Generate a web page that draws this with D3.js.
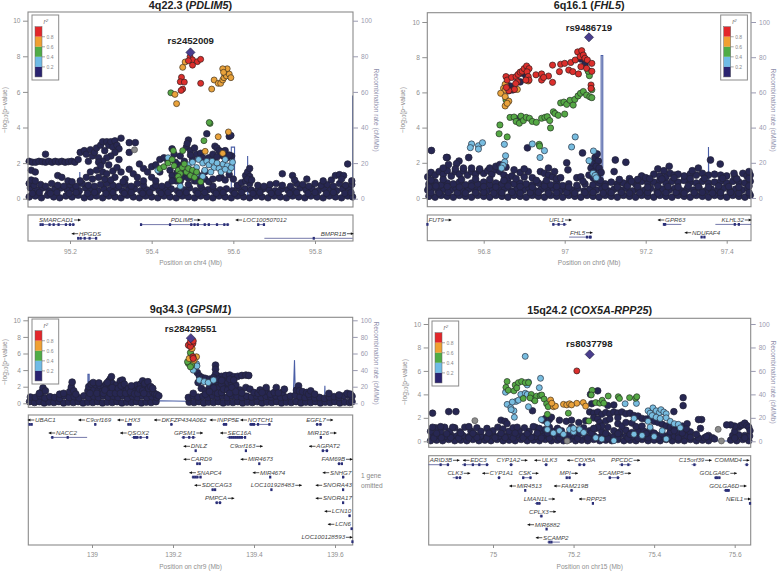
<!DOCTYPE html>
<html><head><meta charset="utf-8">
<script src="https://cdn.jsdelivr.net/npm/d3@7"></script>
<style>
html,body{margin:0;padding:0;background:#fff}
svg{display:block}
text{font-family:"Liberation Sans",Arial,sans-serif}
</style></head><body><svg id="c" width="778" height="571"></svg>
<script>
const rLevels=[0.8,0.6,0.4,0.2];
const yTicks=[0,2,4,6,8,10];
const rateTicks=[0,20,40,60,80,100];

/* ---------- 4q22.3 ---------- */
const p1Base=[[95.1,.1],[95.115,.15],[95.13,.05],[95.145,.2],[95.16,.1],[95.175,.05],[95.19,.15],[95.205,.1],[95.22,.2],[95.235,.05],[95.25,.1],[95.265,.15],[95.28,.05],[95.295,.15],[95.31,.1],[95.325,.05],[95.34,.2],[95.355,.1],[95.37,.05],[95.385,.15],[95.4,.1],[95.415,.05],[95.43,.15],[95.445,.1],[95.46,.05],[95.475,.15],[95.49,.1],[95.505,.05],[95.52,.15],[95.535,.1],[95.55,.05],[95.565,.15],[95.58,.1],[95.595,.05],[95.61,.15],[95.625,.1],[95.64,.05],[95.655,.15],[95.67,.1],[95.685,.05],[95.7,.15],[95.715,.1],[95.73,.05],[95.745,.15],[95.76,.1],[95.775,.05],[95.79,.15],[95.805,.1],[95.82,.05],[95.835,.15],[95.85,.1],[95.865,.05],[95.88,.15],[95.892,.1],
[95.103,.6],[95.118,.5],[95.133,.6],[95.148,.45],[95.163,.55],[95.178,.6],[95.193,.5],[95.208,.55],[95.223,.45],[95.238,.6],[95.253,.5],[95.268,.45],[95.283,.55],[95.298,.5],[95.313,.6],[95.328,.45],[95.343,.5],[95.358,.55],[95.373,.45],[95.388,.5],[95.403,.6],[95.418,.45],[95.433,.5],[95.448,.55],[95.463,.45],[95.478,.5],[95.493,.6],[95.508,.45],[95.523,.55],[95.538,.5],[95.553,.45],[95.568,.5],[95.583,.55],[95.598,.45],[95.613,.6],[95.628,.55],[95.643,.5],[95.658,.45],[95.673,.55],[95.688,.5],[95.703,.45],[95.718,.55],[95.733,.5],[95.748,.45],[95.763,.6],[95.778,.5],[95.793,.55],[95.808,.45],[95.823,.55],[95.838,.5],[95.853,.45],[95.868,.55],[95.883,.6],
[95.1,.85],[95.112,.75],[95.128,.8],[95.14,.7],[95.155,.85],[95.17,.75],[95.185,.7],[95.2,.8],[95.215,.7],[95.23,.85],[95.245,.75],[95.26,.7],[95.275,.8],[95.29,.85],[95.305,.75],[95.32,.7],[95.335,.8],[95.35,.7],[95.365,.85],[95.38,.75],[95.41,.75],[95.425,.7],[95.44,.8],[95.49,.8],[95.52,.75],[95.55,.7],[95.61,.75],[95.64,.85],[95.66,.75],[95.675,.7],[95.69,.8],[95.705,.85],[95.72,.75],[95.74,.7],[95.755,.85],[95.77,.8],[95.785,.7],[95.8,.85],[95.815,.75],[95.83,.8],[95.845,.7],[95.86,.85],[95.875,.75],[95.89,.8],
[95.108,.3],[95.125,.35],[95.152,.3],[95.168,.35],[95.198,.3],[95.215,.35],[95.243,.3],[95.26,.35],[95.288,.3],[95.305,.35],[95.333,.3],[95.35,.35],[95.378,.3],[95.395,.35],[95.423,.3],[95.44,.35],[95.468,.3],[95.485,.35],[95.513,.3],[95.53,.35],[95.558,.3],[95.575,.35],[95.603,.3],[95.62,.35],[95.648,.3],[95.665,.35],[95.693,.3],[95.71,.35],[95.738,.3],[95.755,.35],[95.783,.3],[95.8,.35],[95.828,.3],[95.845,.35],[95.873,.3],[95.888,.35]];
const p1Dark=[[95.1,2.1],[95.108,2.05],[95.116,2.05],[95.124,2.1],[95.132,2.08],[95.14,2.05],[95.148,2.1],[95.156,2.05],[95.164,2.1],[95.172,2.06],[95.18,2.1],[95.188,2.05],[95.196,2.08],[95.204,2.1],[95.212,2.05],[95.22,2.2],[95.14,2.5],
[95.225,2.6],[95.235,2.7],[95.24,2.5],[95.25,2.75],[95.255,2.4],[95.26,2.6],[95.265,2.85],[95.27,2.3],[95.275,3],[95.28,3.2],[95.285,2.7],[95.29,3.2],[95.295,3],[95.3,3.2],[95.305,2.9],[95.31,3.25],[95.315,3],[95.32,2.8],[95.325,3.4],[95.31,2.6],[95.3,2.4],[95.29,2.3],[95.28,2.1],[95.345,3.15],[95.36,3.15],[95.345,2.6],[95.32,2.2],[95.27,2.05],[95.245,2.1],
[95.105,1.6],[95.115,1.5],[95.105,1.05],[95.115,1],[95.17,1.3],[95.18,1.2],[95.195,1],[95.205,.95],[95.225,1],[95.24,1.2],[95.25,1.5],[95.255,1.1],[95.265,1.6],[95.27,1.2],[95.275,1.85],[95.28,1.5],[95.285,1.1],[95.295,1.9],[95.305,1.55],[95.31,1.2],[95.315,1.75],[95.325,1.5],[95.335,1.1],[95.345,1.65],[95.355,1.4],[95.365,1.2],[95.37,1.95],[95.38,1.7],[95.39,1.5],[95.4,1.8],[95.41,1.9],[95.42,2.2],[95.43,2.3],[95.44,2.1],[95.45,2.8],[95.4,1.2],[95.41,1],[95.42,1.5],[95.38,1],[95.29,1.4],[95.3,1.05],[95.33,.95],
[95.445,1.6],[95.45,1.3],[95.455,2.5],[95.46,1],[95.465,1.9],[95.47,2.4],[95.475,1.2],[95.48,2.1],[95.485,2.9],[95.49,3.3],[95.487,3.1],[95.495,2.7],[95.5,2.2],[95.5,1.5],[95.505,1],[95.51,2.5],[95.515,1.3],[95.52,2.55],[95.53,1.1],[95.535,3.65],[95.54,.95],[95.55,2.2],[95.555,2.95],[95.56,2.85],[95.565,2.7],[95.57,1.2],[95.575,2.4],[95.58,2.45],[95.585,2.3],[95.59,3.5],[95.594,3.55],[95.596,2.4],[95.565,1.15],
[95.45,1],[95.458,2.05],[95.462,1.45],[95.47,1],[95.48,1.45],[95.49,1.15],[95.495,2.45],[95.505,2.85],[95.51,1],[95.525,2.3],[95.53,1.5],[95.54,2.3],[95.55,2.5],[95.56,2.35],[95.57,2.65],[95.58,2.7],[95.59,2.45],[95.59,1.35],[95.6,1.1],[95.58,1.05],[95.55,1.1],
[95.62,.9],[95.63,1],[95.63,1.3],[95.635,1.5],[95.64,1.7],[95.64,1.25],[95.635,1.1],[95.645,1.05],[95.72,1.4],[95.745,1.3],[95.75,1.05],[95.78,1.1],[95.82,1],[95.84,1.05],[95.85,1.3],[95.86,1.35],[95.87,1.3],[95.88,1.95],[95.865,1.1],[95.89,1]];
const p1Blue=[[95.415,1.6],[95.44,2.3],[95.47,.7],[95.49,1.9],[95.5,2.05],[95.51,1.75],[95.515,2.2],[95.525,2],[95.53,1.6],[95.535,2.1],[95.54,1.9],[95.548,2.1],[95.553,1.75],[95.56,2],[95.565,1.7],[95.57,1.5],[95.575,1.95],[95.58,2.2],[95.585,1.85],[95.59,1.6],[95.595,1.75],[95.598,2.05],[95.58,1.65],[95.545,1.5],[95.51,1.4],[95.525,1.25]];
const p1Green=[[95.447,5.95],[95.543,4.23],[95.541,4.28],[95.528,3.26],[95.453,2.7],[95.476,2.7],[95.42,1.7],[95.43,1.8],[95.44,2],[95.45,2.2],[95.455,1.85],[95.465,1.6],[95.47,1.4],[95.475,1.75],[95.48,1.95],[95.485,1.5],[95.49,1.7],[95.495,1.3],[95.5,1.6],[95.505,1.2],[95.51,1.5],[95.465,1.25],[95.468,1.05],[95.52,.95]];
const p1Orange=[[95.482,7.68],[95.476,7.38],[95.457,5.86],[95.461,5.34],[95.547,6.16],[95.553,6.67],[95.563,6.48],[95.569,6.48],[95.574,6.67],[95.577,6.8],[95.58,7],[95.583,6.9],[95.585,7.3],[95.59,7],[95.594,6.8],[95.574,7.3],[95.576,7.1],[95.563,3.48],[95.588,3.75],[95.531,2.66],[95.574,2.55]];
const p1Red=[[95.494,7.98],[95.5,7.8],[95.49,7.75],[95.512,7.7],[95.52,7.83],[95.5,7.5],[95.473,6.82],[95.47,6.57],[95.48,6.55],[95.476,6.16],[95.472,6.08],[95.52,6.48]];
const p1Grey=[[95.358,2.75]];
const p1Lead=[[95.495,8.22]];
const p1Rate=[[95.1,.5],[95.224,.5],[95.224,15],[95.225,.5],[95.595,.5],[95.595,29],[95.603,29],[95.603,.5],[95.635,.5],[95.635,24],[95.636,.5],[95.892,.5],[95.892,58]];

/* ---------- 6q16.1 ---------- */
const p2Base=[[96.665,.1],[96.68,.05],[96.695,.15],[96.71,.1],[96.725,.05],[96.74,.15],[96.755,.1],[96.77,.05],[96.785,.15],[96.8,.1],[96.815,.05],[96.83,.15],[96.845,.1],[96.86,.05],[96.875,.15],[96.89,.1],[96.905,.05],[96.92,.15],[96.935,.1],[96.95,.05],[96.965,.15],[96.98,.1],[96.995,.05],[97.01,.15],[97.025,.1],[97.04,.05],[97.055,.15],[97.07,.1],[97.085,.05],[97.1,.15],[97.115,.1],[97.13,.05],[97.145,.15],[97.16,.1],[97.175,.05],[97.19,.15],[97.205,.1],[97.22,.05],[97.235,.15],[97.25,.1],[97.265,.05],[97.28,.15],[97.295,.1],[97.31,.05],[97.325,.15],[97.34,.1],[97.355,.05],[97.37,.15],[97.385,.1],[97.4,.05],[97.415,.15],[97.43,.1],[97.445,.05],[97.458,.15],
[96.662,.45],[96.672,.55],[96.688,.4],[96.702,.5],[96.718,.45],[96.732,.55],[96.748,.4],[96.762,.5],[96.778,.45],[96.792,.55],[96.808,.4],[96.822,.5],[96.838,.45],[96.852,.55],[96.868,.4],[96.882,.5],[96.898,.45],[96.912,.55],[96.928,.4],[96.942,.5],[96.958,.45],[96.972,.55],[96.988,.4],[97.002,.5],[97.018,.45],[97.032,.55],[97.048,.4],[97.062,.5],[97.078,.45],[97.092,.55],[97.108,.4],[97.122,.5],[97.138,.45],[97.152,.55],[97.168,.4],[97.182,.5],[97.198,.45],[97.212,.55],[97.228,.4],[97.242,.5],[97.258,.45],[97.272,.55],[97.288,.4],[97.302,.5],[97.318,.45],[97.332,.55],[97.348,.4],[97.362,.5],[97.378,.45],[97.392,.55],[97.408,.4],[97.422,.5],[97.438,.45],[97.452,.55],
[96.665,.8],[96.68,.9],[96.695,.75],[96.71,.85],[96.725,.8],[96.74,.9],[96.755,.75],[96.77,.85],[96.785,.8],[96.8,.9],[96.815,.75],[96.83,.85],[96.845,.8],[96.86,.9],[96.875,.8],[96.89,.85],[96.905,.8],[96.92,.75],[96.935,.85],[96.95,.8],[96.965,.75],[96.98,.9],[96.995,.7],[97.01,.8],[97.03,.72],[97.05,.8],[97.07,.75],[97.085,.85],[97.1,.8],[97.115,.9],[97.13,.8],[97.145,.85],[97.16,.9],[97.175,.8],[97.19,.95],[97.205,.85],[97.22,.9],[97.235,1],[97.25,.85],[97.265,.95],[97.28,.9],[97.295,1],[97.31,.9],[97.325,.85],[97.34,.95],[97.355,.85],[97.37,.9],[97.385,.95],[97.4,.85],[97.415,.95],[97.43,.9],[97.445,.85],[97.458,.95],
[96.662,1.2],[96.67,1.45],[96.68,1.3],[96.69,1.5],[96.7,1.35],[96.71,1.55],[96.72,1.25],[96.73,1.5],[96.74,1.35],[96.75,1.55],[96.76,1.3],[96.77,1.5],[96.78,1.35],[96.79,1.55],[96.8,1.4],[96.81,1.55],[96.82,1.35],[96.83,1.6],[96.84,1.5],[96.85,1.3],[96.86,1.15],[96.87,1.25],[96.88,1.1],[96.89,1.45],[96.9,1.2],[96.91,1.5],[96.92,1.15],[96.93,1],[96.94,1.5],[96.95,1.4],[96.96,1.3],[96.97,1.2],[96.98,1.1],[96.99,1.15],[97.16,1.1],[97.19,1.25],[97.2,1.15],[97.22,1.35],[97.235,1.25],[97.25,1.2],[97.26,1.4],[97.27,1.3],[97.28,1.35],[97.295,1.25],[97.31,1.35],[97.325,1.3],[97.34,1.4],[97.355,1.3],[97.37,1.35],[97.385,1.3],[97.4,1.25],[97.42,1.2],[97.44,1.4],[97.45,1.25],[97.458,1.3],
[96.67,.3],[96.69,.28],[96.712,.32],[96.735,.3],[96.755,.28],[96.78,.3],[96.8,.32],[96.825,.28],[96.845,.3],[96.87,.32],[96.89,.28],[96.915,.3],[96.935,.32],[96.96,.28],[96.98,.3],[97.005,.32],[97.025,.28],[97.05,.3],[97.07,.32],[97.095,.28],[97.115,.3],[97.14,.32],[97.16,.28],[97.185,.3],[97.205,.32],[97.23,.28],[97.25,.3],[97.275,.32],[97.295,.28],[97.32,.3],[97.34,.32],[97.365,.28],[97.385,.3],[97.41,.32],[97.43,.28],[97.455,.3],
[96.665,.62],[96.682,.68],[96.71,.65],[96.74,.62],[96.77,.68],[96.8,.65],[96.83,.62],[96.86,.68],[96.89,.65],[96.92,.62],[96.95,.68],[96.98,.65],[97.01,.62],[97.1,.65],[97.13,.62],[97.155,.68],[97.18,.65],[97.205,.62],[97.23,.68],[97.255,.65],[97.28,.62],[97.305,.68],[97.33,.65],[97.355,.62],[97.38,.68],[97.405,.65],[97.43,.62],[97.455,.68],
[96.67,1.02],[96.7,1.05],[96.745,1.05],[96.78,1.08],[96.815,1.05],[96.85,1],[96.955,1],[97.135,1.05],[97.18,1.05],[97.21,1.1],[97.24,1.08],[97.27,1.15],[97.31,1.1],[97.345,1.12],[97.39,1.12],[97.425,1.08],[97.455,1.1]];
const p2Dark=[[96.671,2.7],[96.71,2.3],[96.708,2.3],[96.763,2.3],[96.739,2.1],[96.733,1.95],[96.713,1.9],[96.908,2.85],[97.044,2.56],[97.005,2],[97.008,1.6],[97.125,2.16],[97.151,2.03],[97.122,1.5],[97.36,2.16],[97.384,1.93],[97.258,1.8],[97.23,1.65],[97.33,1.7],[97.418,1.4],[97.315,1.55],[97.455,1.5],[97.245,1.55],[97.165,.95],
[96.7,1.7],[96.73,1.65],[96.75,1.7],[96.77,1.7],[96.79,1.65],[96.815,1.7],[96.83,1.8],[96.84,1.9],[96.855,1.75],[96.875,1.6],[96.9,1.65],[96.96,1.7],[96.975,1.5],[97.03,1.15],[97.04,1.2],[97.045,.95],
[97.06,1.3],[97.065,1.7],[97.068,2],[97.072,1.5],[97.075,2.3],[97.08,2.5],[97.083,2.1],[97.078,1.8],[97.085,1.7],[97.075,1.1],[97.082,1.3],[97.088,1],[97.09,1.45],[97.07,1.15],
[96.865,6.36],[96.872,6.15],[96.855,6.4],[96.862,6.1],[96.89,6.6],[96.895,7.1],[96.905,6.9],[97.04,7.9],[97.05,7.6],[97.06,7.2],[96.88,4.5],[96.885,4.45]];
const p2Blue=[[96.77,3.07],[96.767,2.86],[96.787,2.97],[96.787,2.78],[96.797,3.14],[96.851,3.05],[96.92,3.07],[96.939,2.3],[96.95,2.69],[97.026,3.47],[97.017,2.9],[97.071,2.67],[97.06,2.12],[96.854,2.4],[96.852,2.05],[96.848,1.85],[96.844,1.7],[97.07,1.4],[97.075,1.28],[97.078,1.15]];
const p2Green=[[96.84,4.15],[96.838,3.65],[96.858,3.47],[96.855,5.57],[96.865,4.58],[96.875,4.6],[96.88,4.35],[96.888,4.25],[96.892,4.65],[96.898,4.4],[96.905,4.58],[96.913,4.53],[96.92,4.35],[96.93,4.3],[96.943,4.53],[96.951,4.58],[96.957,4.62],[96.963,4.4],[96.965,3.98],[96.972,4.9],[96.976,4.8],[96.984,4.7],[97,4.77],[96.99,5.4],[96.998,5.45],[97.005,5.32],[97.013,5.55],[97.021,5.28],[97.025,5.6],[97.033,5.8],[97.039,5.95],[97.046,6.05],[97.054,5.85],[97.062,5.75],[97.067,6.15],[97.067,5.7],[97.061,6.95],[97.058,7.2],[96.937,3.05],[96.938,2.95]];
const p2Orange=[[96.853,6.46],[96.849,6.23],[96.853,6.13],[96.842,5.95],[96.853,5.76],[96.862,5.5],[96.853,5.23],[96.858,5.38],[96.883,6.17],[96.91,6.65]];
const p2Red=[[96.855,6.9],[96.858,6.7],[96.869,6.85],[96.88,6.9],[96.885,7.02],[96.89,7.15],[96.895,7.2],[96.9,7.35],[96.906,7.5],[96.912,7.35],[96.907,7.17],[96.91,6.9],[96.912,6.7],[96.904,6.7],[96.883,6.6],[96.879,6.5],[96.876,6.17],[96.862,6.1],[96.856,6.28],[96.929,7],[96.943,7.05],[96.943,6.7],[96.96,6.93],[96.948,6.85],[96.97,7.55],[96.97,6.57],[96.987,7.18],[96.99,7.6],[97,7.65],[97.01,7.27],[97.02,7.18],[97.034,7.05],[97.015,7.7],[97.026,7.84],[97.032,8.3],[97.042,8.37],[97.038,8.03],[97.046,8.12],[97.05,7.94],[97.056,7.84],[97.067,7.65],[97.04,7.46],[97.054,7.37],[97.067,7.2],[97.065,6.42],[97.065,6.23]];
const p2Lead=[[97.06,9.13]];
const p2Rate=[[96.661,.3],[97.09,.3],[97.09,81],[97.094,81],[97.094,.3],[97.355,.3],[97.355,29],[97.356,.3],[97.46,.3]];

/* ---------- 9q34.3 ---------- */
const p3Base=[[138.846,.2],[138.858,.1],[138.87,.2],[138.882,.05],[138.894,.15],[138.906,.1],[138.918,.2],[138.93,.05],[138.942,.15],[138.954,.1],[138.966,.2],[138.978,.05],[138.99,.15],[139.002,.1],[139.014,.2],[139.026,.05],[139.038,.15],[139.05,.1],[139.062,.2],[139.074,.05],[139.086,.15],[139.098,.1],[139.11,.2],[139.122,.05],[139.134,.15],[139.146,.1],[139.158,.2],[139.24,.15],[139.252,.1],[139.264,.2],[139.276,.05],[139.288,.15],[139.3,.1],[139.312,.2],[139.324,.05],[139.336,.15],[139.348,.1],[139.36,.2],[139.372,.05],[139.384,.15],[139.396,.1],[139.408,.2],[139.42,.05],[139.432,.15],[139.444,.1],[139.456,.2],[139.468,.05],[139.48,.15],[139.492,.1],[139.504,.2],[139.516,.05],[139.528,.15],[139.54,.1],[139.552,.2],[139.564,.05],[139.576,.15],[139.588,.1],[139.6,.2],[139.612,.05],[139.624,.15],[139.636,.1],[139.642,.2],
[138.848,.75],[138.86,.7],[138.872,.9],[138.884,.65],[138.896,.8],[138.908,.7],[138.92,.6],[138.932,.9],[138.944,.7],[138.956,.8],[138.968,.65],[138.98,.9],[138.992,.7],[139.004,.85],[139.016,.7],[139.028,.9],[139.04,.75],[139.052,.85],[139.064,.7],[139.076,.9],[139.088,.65],[139.1,.85],[139.112,.7],[139.124,.9],[139.136,.7],[139.148,.8],[139.16,.7],[139.238,.7],[139.25,.9],[139.262,.75],[139.274,.85],[139.286,.7],[139.298,.9],[139.31,.75],[139.322,.85],[139.334,.7],[139.346,.9],[139.358,.8],[139.37,.7],[139.382,.85],[139.394,.75],[139.406,.9],[139.418,.7],[139.43,.85],[139.442,.75],[139.454,.9],[139.466,.7],[139.478,.75],[139.49,.85],[139.502,.95],[139.514,.8],[139.526,.7],[139.538,.8],[139.55,.65],[139.562,.7],[139.574,.6],[139.586,.75],[139.598,.8],[139.61,.7],[139.622,.9],[139.634,.95],[139.642,.85]];
const p3Dark=[[138.875,1.3],[138.879,1.85],[138.885,1.5],[138.87,1.2],[138.92,1.1],[138.93,1.2],[138.945,1.4],[138.949,1.95],[138.951,2.55],[138.955,1.5],[138.96,1.1],
[138.99,1.5],[138.992,2],[138.998,2.3],[139.005,1.6],[139.01,2.2],[139.015,1.5],[139.02,2.1],[139.025,1.4],[139.03,2],[139.035,2.3],[139.04,1.6],[139.042,2.7],[139.045,2.9],[139.048,3.2],[139.05,2.4],[139.055,1.6],[139.06,2.2],[139.062,1.4],[139.07,2.7],[139.075,2.8],[139.08,1.7],[139.085,1.6],[139.09,1.2],[139.1,2],[139.105,1.5],[139.11,2.2],[139.115,1.7],[139.12,2.3],[139.125,2.7],[139.13,2.1],[139.135,1.5],[139.14,1.2],[139.15,1.4],[139.155,1.15],[139.16,1.05],[139.165,.9],
[138.995,1.2],[139.003,2.5],[139.012,1.2],[139.017,2.45],[139.028,1.2],[139.032,1.6],[139.038,2.5],[139.045,1.2],[139.05,1.9],[139.058,1.2],[139.065,1.8],[139.07,1.2],[139.072,2.1],[139.08,2.3],[139.083,1.2],[139.09,1.8],[139.095,1.35],[139.097,2.1],[139.105,1.15],[139.113,1.2],[139.118,1.7],[139.125,1.5],[139.128,1.2],[139.13,2.4],[139.138,2.6],[139.14,1.8],[139.145,2],[139.15,1.8],
[139.26,3.7],[139.265,3.3],[139.272,3.1],[139.28,3],[139.29,2.9],[139.3,2.95],[139.305,4.6],[139.305,4.1],[139.31,3.3],[139.32,3.25],[139.33,3.35],[139.34,3.4],[139.35,3.2],[139.36,3.25],[139.37,3.35],[139.38,3.4],[139.387,3.35],[139.25,1.2],[139.262,2.5],[139.27,1.8],[139.28,1.5],[139.29,1.9],[139.3,2.3],[139.31,2.6],[139.315,1.9],[139.325,2.7],[139.33,1.8],[139.335,2.5],[139.345,2.4],[139.355,2.2],[139.3,1.4],[139.28,1.1],[139.31,1.2],[139.32,1.3],[139.365,1.6],[139.38,1.9],[139.39,1.7],[139.4,1.3],[139.41,1.2],[139.43,1.5],[139.44,1.1],[139.43,1.9],[139.47,1.3],[139.475,1.7],[139.45,1.3],
[139.295,2.55],[139.305,3.5],[139.3,3.1],[139.305,2.9],[139.312,2.9],[139.32,2.3],[139.325,1.7],[139.335,1.6],[139.34,2.9],[139.35,2.8],[139.345,1.9],[139.32,2.75],[139.34,1.2],[139.355,1.4],[139.37,1.25],[139.3,1.85],[139.29,1.4],[139.415,1.6],[139.42,1.3],[139.455,1.9],[139.46,1.25],
[139.505,1.6],[139.51,2.1],[139.512,1.5],[139.52,1.4],[139.53,1.3],[139.535,1.1],[139.54,1.5],[139.55,1.1],[139.585,1.2],[139.61,1],[139.63,1.2],[139.638,1.1]];
const p3Blue=[[139.258,4.75],[139.25,4],[139.265,2.8],[139.277,2.6],[139.287,2.5],[139.3,2.8],[139.259,4.5]];
const p3Green=[[139.238,4.8],[139.245,5.8],[139.242,5.2],[139.246,4.6],[139.236,5],[139.243,6.1],[139.243,4.4]];
const p3Orange=[[139.247,6.6],[139.258,5.6],[139.252,5.2],[139.24,5.4]];
const p3Red=[[139.238,7],[139.249,7.2],[139.243,6.85],[139.249,5.6],[139.25,5.4],[139.243,7.4],[139.25,7.5]];
const p3Lead=[[139.244,7.85]];
const p3Rate=[[138.843,1],[138.94,1],[138.945,10],[138.95,5],[138.955,.5],[138.99,.5],[138.99,35],[138.993,35],[138.993,1],[139.165,3],[139.235,2.5],[139.24,1],[139.485,1],[139.49,8],[139.497,8],[139.5,52],[139.502,10],[139.505,1],[139.574,1],[139.575,21],[139.576,1],[139.644,1]];

/* ---------- 15q24.2 ---------- */
const p4Base=[[74.845,.05],[74.86,.1],[74.875,.05],[74.89,.15],[74.905,.05],[74.92,.1],[74.935,.05],[74.95,.15],[74.965,.05],[74.98,.1],[74.995,.05],[75.01,.15],[75.025,.05],[75.04,.1],[75.055,.05],[75.07,.15],[75.085,.05],[75.1,.1],[75.115,.05],[75.13,.15],[75.145,.05],[75.16,.1],[75.175,.05],[75.19,.15],[75.205,.05],[75.22,.1],[75.235,.05],[75.25,.15],[75.265,.05],[75.28,.1],[75.295,.05],[75.31,.15],[75.325,.05],[75.34,.1],[75.355,.05],[75.37,.15],[75.385,.05],[75.4,.1],[75.415,.05],[75.43,.15],[75.445,.05],[75.46,.1],[75.475,.05],[75.49,.15],[75.505,.05],[75.52,.1],[75.535,.05],[75.59,.1],[75.605,.05],[75.62,.15],[75.635,.05],
[74.85,.45],[74.865,.5],[74.88,.4],[74.895,.55],[74.91,.45],[74.925,.5],[74.94,.4],[74.955,.55],[74.97,.45],[74.985,.4],[75,.55],[75.015,.45],[75.03,.5],[75.045,.4],[75.06,.55],[75.075,.45],[75.09,.5],[75.105,.4],[75.125,.5],[75.14,.45],[75.155,.55],[75.17,.4],[75.2,.5],[75.23,.4],[75.25,.5],[75.27,.45],[75.285,.5],[75.3,.4],[75.315,.55],[75.33,.45],[75.345,.4],[75.36,.5],[75.375,.4],[75.39,.5],[75.405,.55],[75.42,.4],[75.435,.5],[75.45,.45],[75.465,.4],[75.48,.5],[75.51,.3],[75.525,.3],[75.595,.5],[75.61,.55],[75.625,.5],[75.637,.45],
[74.845,.85],[74.858,1.15],[74.87,.8],[74.88,1.2],[74.892,.85],[74.905,1.15],[74.918,.8],[74.93,1.2],[74.945,.9],[74.96,1.15],[74.97,.85],[74.985,1.1],[75,.9],[75.012,1.2],[75.025,1.05],[75.04,.85],[75.05,1.15],[75.065,.9],[75.078,1.15],[75.09,.85],[75.105,1.2],[75.118,.9],[74.85,1.2],[74.87,1.25],[74.9,1.2],[74.94,1.25],[75.02,1.8],[75.03,1.7],[75.035,1.5],[75.06,1.2],[75.1,1.25],[75.115,1.1],
[75.13,1],[75.14,1.2],[75.15,.85],[75.16,1.1],[75.17,.9],[75.195,1.2],[75.21,.95],[75.225,1.15],[75.24,.9],[75.255,1.1],[75.27,.85],[75.285,1.2],[75.3,.9],[75.315,.8],[75.33,.95],[75.345,.75],[75.36,.9],[75.375,.85],[75.39,.95],[75.4,.7],[75.44,.8],[75.46,.7],[75.475,.95],[75.49,.8],[75.505,.6],[75.515,1.1],[75.518,1.85],[75.6,.85],[75.61,1.2],[75.615,1.35],[75.62,1.4],[75.625,1.55],[75.63,1.35],[75.635,1.2],[75.6,1.3],[75.59,1.4],[75.638,.9],
[74.853,.28],[74.872,.3],[74.895,.32],[74.915,.28],[74.94,.3],[74.96,.32],[74.985,.28],[75.005,.3],[75.03,.32],[75.05,.28],[75.075,.3],[75.095,.32],[75.12,.28],[75.14,.25],[75.165,.28],[75.185,.3],[75.21,.25],[75.235,.28],[75.26,.3],[75.285,.25],[75.31,.3],[75.335,.28],[75.36,.25],[75.385,.3],[75.41,.28],[75.435,.3],[75.46,.28],[75.49,.35],[75.6,.28],[75.625,.3],
[74.86,.68],[74.885,.65],[74.92,.7],[74.95,.68],[74.99,.7],[75.02,.68],[75.055,.7],[75.085,.65],[75.11,.7],[75.135,.7],[75.165,.68],[75.19,.65],[75.215,.68],[75.245,.7],[75.28,.68],[75.31,.65],[75.34,.6],[75.38,.65],[75.42,.62],[75.47,.7]];
const p4Dark=[[74.85,2.4],[74.89,2.53],[74.908,2.53],[75.242,4],[75.26,4.3],[75.098,2.6],[75.472,3.72],[75.472,3.04],[75.449,2.53],[75.125,1.8],[75.13,1.95],[75.135,1.6],[75.14,1.85],[75.145,2.05],[75.165,1.8],[75.182,1.7],[75.195,1.8],[75.213,1.6],[75.23,1.75],[75.3,3.1],[75.285,3.05],[75.245,3.2],
[75.24,2.5],[75.25,2.4],[75.26,2.5],[75.27,2.3],[75.28,2.45],[75.29,2.35],[75.3,2.5],[75.31,2.4],[75.32,2.5],[75.33,2.35],[75.34,2.4],[75.35,2.2],[75.36,2.15],[75.37,1.95],[75.38,1.9],[75.39,2],[75.4,1.7],[75.41,1.6],[75.42,1.45],[75.43,1.3],[75.44,1.2],[75.45,1.15],[75.47,1.3],[75.482,1.5],[75.51,1.85],[75.535,.5],[75.58,1.4],[75.25,2],[75.26,1.9],[75.265,1.6],[75.27,1.3],[75.28,1.75],[75.29,1.9],[75.31,1.5],[75.32,1.3],[75.33,1.6],[75.345,1.55],[75.355,1.25],[75.37,1.3],[75.31,2],[75.26,1.2],[75.25,1.1],[75.48,1.05],[75.45,.9],[75.53,.4],[75.545,.3],[75.55,.2]];
const p4Blue=[[75.08,7.24],[75.118,5.37],[75.115,4.57],[75.031,4.18],[75.035,3.15],[75.044,2.87],[75.052,2.6],[75.053,2.05],[75.057,3.4],[75.063,3.5],[75.069,4],[75.08,4.1],[75.085,4],[75.088,2.95],[75.085,4.8],[75.088,5.05],[75.048,3.35],[75.045,2.7],[75.356,3.23],[75.328,3.2],[75.12,1.85],[75.135,1],[75.15,.7],[75.165,.9],[75.175,.6],[75.19,1],[75.2,.8],[75.215,1],[75.225,.75],[75.255,.3],[75.27,.2],[75.3,.05],[75.35,.6],[75.37,.5],[75.4,.4],[75.43,.2],[75.385,2.6],[75.39,2.4],[75.397,2.85],[75.405,2.6],[75.413,2.45],[75.417,2.7],[75.424,2.5],[75.43,2.35],[75.395,2.2],[75.405,2.05],[75.415,1.95],[75.43,2],[75.44,1.7],[75.45,1.5],[75.46,1.45],[75.465,1.15],[75.42,.9],[75.385,1.7],[75.39,1.2],[75.35,1.95],[75.2,1.1],[75.135,1.5]];
const p4Green=[[75.035,5.1],[75.032,4.6],[75.038,4.35],[75.052,4.3],[75.055,4.8],[75.063,5],[75.071,5.1],[75.08,5],[75.088,5],[75.059,4.55],[75.075,3.65],[75.095,4],[75.1,3.6],[75.108,3.85],[75.117,3.9],[75.121,3.95],[75.092,3.7],[75.104,3.45],[75.127,3.6],[75.133,3.2],[75.137,2.95],[75.135,2.3],[75.187,2.4],[75.238,1.73],[75.246,4.35],[75.244,3.95],[75.255,3.3],[75.265,3.25],[75.271,3.5],[75.275,3.25],[75.286,3.86],[75.311,3.8],[75.314,3.65],[75.339,3.72],[75.354,3.67],[75.357,3.8]];
const p4Orange=[[75.143,3.52],[75.15,2.95],[75.155,3],[75.146,3.25],[75.175,3.15],[75.183,3.1],[75.19,3.2],[75.208,3.24],[75.224,3.3],[75.23,3],[75.195,3.1]];
const p4Red=[[75.208,6]];
const p4Grey=[[74.955,1.76],[75.184,.03],[75.559,1.02],[75.567,.03]];
const p4Lead=[[75.24,7.41]];
const p4Rate=[[74.84,.2],[75.64,.2]];

/* ---------- genes: name, start, end, row, strand, label centre, exons ---------- */
const p1Genes=[["SMARCAD1",95.128,95.212,0,1,95.166,[95.128,95.133,95.15,95.16,95.172,95.19,95.2,95.208]],
["HPGDS",95.219,95.265,1,-1,95.249,[95.22,95.226,95.236,95.248,95.264]],
["PDLIM5",95.372,95.59,0,1,95.474,[95.374,95.445,95.497,95.505,95.513,95.53,95.54,95.56,95.578,95.586]],
["LOC100507012",95.66,95.676,0,-1,95.677,[95.661,95.675]],
["BMPR1B",95.676,95.892,1,1,95.845,[95.797]]];
const p2Genes=[["FUT9",96.661,96.662,0,1,96.683,[96.661]],
["UFL1",96.969,97.005,0,1,96.98,[96.972,96.985,96.999]],
["FHL5",97.011,97.066,1,1,97.032,[97.055,97.062,97.064]],
["GPR63",97.243,97.288,0,-1,97.273,[97.245,97.248]],
["NDUFAF4",97.336,97.347,1,-1,97.349,[97.338,97.345]],
["KLHL32",97.372,97.46,0,1,97.415,[97.42,97.43]]];
const p3Genes=[["UBAC1",138.844,138.853,0,-1,138.885,[138.846,138.851]],
["C9orf169",139.006,139.011,0,-1,139.016,[139.008]],
["LHX3",139.087,139.098,0,-1,139.1,[139.09,139.095]],
["DKFZP434A062",139.193,139.2,0,-1,139.227,[139.196]],
["INPP5E",139.322,139.334,0,-1,139.336,[139.326,139.331]],
["NOTCH1",139.388,139.441,0,-1,139.416,[139.392,139.396,139.4,139.41,139.438]],
["EGFL7",139.552,139.568,0,1,139.553,[139.556,139.564]],
["NACC2",138.898,138.988,1,-1,138.937,[138.902,138.94]],
["QSOX2",139.098,139.139,1,-1,139.114,[139.104,139.108,139.112,139.12,139.136]],
["GPSM1",139.221,139.256,1,1,139.229,[139.226,139.24,139.25]],
["SEC16A",139.333,139.38,1,-1,139.364,[139.34,139.345,139.35,139.355,139.36,139.365,139.37,139.378]],
["MIR126",139.565,139.566,1,1,139.559,[139.565]],
["DNLZ",139.254,139.258,2,-1,139.264,[139.256]],
["C9orf163",139.378,139.382,2,1,139.372,[139.38]],
["AGPAT2",139.567,139.584,2,-1,139.583,[139.57,139.58]],
["CARD9",139.258,139.269,3,-1,139.27,[139.26,139.266]],
["MIR4673",139.413,139.414,3,-1,139.416,[139.413]],
["FAM69B",139.606,139.619,3,1,139.596,[139.61,139.617]],
["SNAPC4",139.246,139.271,4,-1,139.289,[139.25,139.255,139.26,139.268]],
["MIR4674",139.44,139.441,4,-1,139.446,[139.44]],
["SNHG7",139.618,139.624,4,-1,139.614,[139.62]],
["SDCCAG3",139.295,139.306,5,-1,139.308,[139.298,139.304]],
["LOC101928483",139.441,139.445,5,1,139.446,[139.443]],
["SNORA43",139.62,139.621,5,-1,139.606,[139.62]],
["PMPCA",139.304,139.32,6,1,139.306,[139.308,139.316]],
["SNORA17",139.62,139.621,6,-1,139.606,[139.62]],
["LCN10",139.633,139.639,7,-1,139.616,[139.636]],
["LCN6",139.639,139.644,8,-1,139.62,[139.641]],
["LOC100128593",139.642,139.644,9,1,139.571,[139.643]]];
const p4Genes=[["ARID3B",74.84,74.892,0,1,74.871,[74.87,74.888]],
["EDC3",74.923,74.99,0,-1,74.964,[74.93,74.95,74.966,74.985]],
["CYP1A2",75.04,75.05,0,1,75.038,[75.045]],
["ULK3",75.127,75.136,0,-1,75.14,[75.132]],
["COX5A",75.211,75.23,0,-1,75.228,[75.215,75.226]],
["PPCDC",75.313,75.343,0,1,75.32,[75.32,75.336]],
["C15orf39",75.493,75.505,0,1,75.493,[75.5]],
["COMMD4",75.625,75.635,0,1,75.584,[75.63]],
["CLK3",74.9,74.922,1,1,74.906,[74.91,74.918]],
["CYP1A1",75.011,75.019,1,-1,75.021,[75.015]],
["CSK",75.073,75.096,1,1,75.079,[75.075,75.093]],
["MPI",75.181,75.193,1,1,75.179,[75.183,75.19]],
["SCAMP5",75.287,75.315,1,1,75.293,[75.29,75.31]],
["GOLGA6C",75.549,75.565,1,1,75.55,[75.553,75.557,75.562]],
["MIR4513",75.08,75.081,2,-1,75.09,[75.08]],
["FAM219B",75.191,75.199,2,-1,75.203,[75.195]],
["GOLGA6D",75.573,75.588,2,1,75.574,[75.578,75.582,75.585]],
["LMAN1L",75.104,75.119,3,1,75.106,[75.11,75.115]],
["RPP25",75.246,75.25,3,-1,75.256,[75.248]],
["NEIL1",75.637,75.64,3,1,75.6,[75.638]],
["CPLX3",75.116,75.124,4,1,75.114,[75.12]],
["MIR6882",75.133,75.134,5,-1,75.135,[75.133]],
["SCAMP2",75.135,75.166,6,-1,75.156,[75.14,75.145]]];

const colors={dark:"#272752",blue:"#78bde0",green:"#55a845",orange:"#e9a23b",red:"#dc2f2c",grey:"#8c8c8c",lead:"#4a3d8e"};
const legendColors=["#e3262a","#f0a032","#4fac46","#6fbbe6","#2a2370"];

const panels=[
 {title:"4q22.3 (",gene:"PDLIM5",rs:"rs2452009",rsAt:[190.7,43.5],chr:"chr4",box:[28,12,353,207],y0:198.7,y10:20.7,titleY:9,
  xd:[95.2,95.8],xr:[70,315],xt:[95.2,95.4,95.6,95.8],fmt:d3.format(".1f"),
  gbox:[215,241],rowY:[220,233.7],lineOff:4.6,legend:[32,15],yLab:[6.5,110],rLab:[374,110],xTickY:254,xLabY:265,
  sets:{base:p1Base,dark:p1Dark,blue:p1Blue,green:p1Green,orange:p1Orange,red:p1Red,grey:p1Grey,lead:p1Lead},rate:p1Rate,genes:p1Genes,r:3.3},
 {title:"6q16.1 (",gene:"FHL5",rs:"rs9486719",rsAt:[589,31],chr:"chr6",box:[427.3,12.7,751,206.7],y0:198,y10:22,titleY:9,
  xd:[96.8,97.4],xr:[483.7,726.7],xt:[96.8,97,97.2,97.4],fmt:d=>d===97?"97":d3.format(".1f")(d),
  gbox:[215,240.7],rowY:[220,232.7],lineOff:4.4,legend:[720.7,15],yLab:[405,110],rLab:[771,110],xTickY:254,xLabY:265,
  sets:{base:p2Base,dark:p2Dark,blue:p2Blue,green:p2Green,orange:p2Orange,red:p2Red,grey:[],lead:p2Lead},rate:p2Rate,genes:p2Genes,r:3.4},
 {title:"9q34.3 (",gene:"GPSM1",rs:"rs28429551",rsAt:[190.7,332],chr:"chr9",box:[28.3,317.3,352.7,407.3],y0:403.3,y10:320.3,titleY:313,
  xd:[139,139.6],xr:[92,335],xt:[139,139.2,139.4,139.6],fmt:d=>d===139?"139":d3.format(".1f")(d),
  gbox:[415,545],rowY:[420,433,446.3,459.3,472.7,485.3,498.3,511.3,524.3,537.3],lineOff:4.4,legend:[32,319],yLab:[6.5,362],rLab:[374,363],xTickY:557,xLabY:569,
  sets:{base:p3Base,dark:p3Dark,blue:p3Blue,green:p3Green,orange:p3Orange,red:p3Red,grey:[],lead:p3Lead},rate:p3Rate,genes:p3Genes,r:3.4,omitted:true},
 {title:"15q24.2 (",gene:"COX5A-RPP25",rs:"rs8037798",rsAt:[589.3,346.5],chr:"chr15",box:[428.7,318.3,750.7,447.3],y0:441.3,y10:324,titleY:314,
  xd:[75,75.6],xr:[493,734.7],xt:[75,75.2,75.4,75.6],fmt:d=>d===75?"75":d3.format(".1f")(d),
  gbox:[455.7,545],rowY:[460.3,473.3,486,499,511.7,524.7,537.7],lineOff:4.4,legend:[432,321],yLab:[406.5,382],rLab:[771,382],xTickY:557,xLabY:569,
  sets:{base:p4Base,dark:p4Dark,blue:p4Blue,green:p4Green,orange:p4Orange,red:p4Red,grey:p4Grey,lead:p4Lead},rate:p4Rate,genes:p4Genes,r:3.3}
];

const svg=d3.select("#c");
const tickCol="#8f8f8f", borderCol="#8a8a8a", rateCol="#4a5ea6";

panels.forEach(p=>{
  const g=svg.append("g");
  const [bx0,by0,bx1,by1]=p.box;
  const x=d3.scaleLinear().domain(p.xd).range(p.xr);
  const y=d3.scaleLinear().domain([0,10]).range([p.y0,p.y10]);
  const yr=d3.scaleLinear().domain([0,100]).range([p.y0,p.y10]);

  g.append("text").attr("x",(bx0+bx1)/2).attr("y",p.titleY).attr("text-anchor","middle")
   .attr("font-size",10.8).attr("font-weight","bold").attr("fill","#222")
   .call(t=>{t.append("tspan").text(p.title);t.append("tspan").attr("font-style","italic").text(p.gene);t.append("tspan").text(")");});

  // recombination line
  g.append("path").datum(p.rate).attr("fill","none").attr("stroke",rateCol).attr("stroke-width",1.1)
   .attr("d",d3.line().x(d=>x(d[0])).y(d=>yr(d[1])));

  // points
  const drawPts=(data,fill,stroke,r)=>{
    g.append("g").selectAll("circle").data(data).join("circle")
     .attr("cx",d=>x(d[0])).attr("cy",d=>y(d[1])).attr("r",r)
     .attr("fill",fill).attr("stroke",stroke).attr("stroke-width",.7);
  };
  const s=p.sets;
  drawPts(s.base,colors.dark,"#222238",p.r);
  drawPts(s.dark,colors.dark,"#222238",p.r);
  drawPts(s.blue,colors.blue,"#2a3444",p.r-.3);
  drawPts(s.green,colors.green,"#263426",p.r-.3);
  drawPts(s.orange,colors.orange,"#44341e",p.r-.3);
  drawPts(s.red,colors.red,"#341e1e",p.r-.3);
  drawPts(s.grey,colors.grey,"#555",p.r-.3);
  g.append("g").selectAll("path").data(s.lead).join("path")
   .attr("transform",d=>`translate(${x(d[0])},${y(d[1])})`)
   .attr("d",d3.symbol(d3.symbolDiamond2,52))
   .attr("fill",colors.lead).attr("stroke","#26264a").attr("stroke-width",.7);

  // plot box
  g.append("rect").attr("x",bx0).attr("y",by0).attr("width",bx1-bx0).attr("height",by1-by0)
   .attr("fill","none").attr("stroke",borderCol).attr("stroke-width",1.1);

  // rs label
  g.append("text").attr("x",p.rsAt[0]).attr("y",p.rsAt[1]).attr("text-anchor","middle")
   .attr("font-size",9.6).attr("font-weight","bold").attr("fill","#222").text(p.rs);

  // axes
  const styleAx=(sel,col)=>{sel.select(".domain").remove();
    sel.selectAll("line").attr("stroke",col);sel.selectAll("text").attr("fill",col).attr("font-size",6.6).attr("font-family",'"Liberation Sans",Arial,sans-serif');};
  g.append("g").attr("transform",`translate(${bx0},0)`)
   .call(d3.axisLeft(y).tickValues(yTicks).tickSize(5).tickPadding(2.5)).call(styleAx,tickCol);
  g.append("g").attr("transform",`translate(${bx1},0)`)
   .call(d3.axisRight(yr).tickValues(rateTicks).tickSize(5).tickPadding(3)).call(styleAx,"#9a9ab0");
  g.append("g").attr("transform",`translate(0,${p.gbox[1]})`)
   .call(d3.axisBottom(x).tickValues(p.xt).tickFormat(p.fmt).tickSize(3).tickPadding(p.xTickY-p.gbox[1]-8)).call(styleAx,tickCol);

  // axis titles
  const yl=g.append("text").attr("transform",`translate(${p.yLab[0]},${p.yLab[1]}) rotate(-90)`).attr("text-anchor","middle")
    .attr("font-size",6.6).attr("fill",tickCol);
  yl.append("tspan").text("−log");yl.append("tspan").attr("font-size",4.8).attr("dy",1.4).text("10");
  yl.append("tspan").attr("dy",-1.4).text("(p−value)");
  g.append("text").attr("transform",`translate(${p.rLab[0]},${p.rLab[1]}) rotate(90)`).attr("text-anchor","middle")
    .attr("font-size",6.6).attr("fill","#8f90ac").text("Recombination rate (cM/Mb)");
  g.append("text").attr("x",(bx0+bx1)/2).attr("y",p.xLabY).attr("text-anchor","middle")
    .attr("font-size",6.6).attr("fill",tickCol).text(`Position on ${p.chr} (Mb)`);

  // legend
  const [lx,ly]=p.legend;
  const lg=g.append("g");
  lg.append("rect").attr("x",lx).attr("y",ly).attr("width",26.7).attr("height",65).attr("fill","#fff").attr("stroke",borderCol).attr("stroke-width",1);
  legendColors.forEach((c,i)=>lg.append("rect").attr("x",lx+3).attr("y",ly+11.7+i*10.05).attr("width",7).attr("height",10.05).attr("fill",c));
  lg.append("rect").attr("x",lx+3).attr("y",ly+11.7).attr("width",7).attr("height",50.25).attr("fill","none").attr("stroke","#666").attr("stroke-width",.5);
  rLevels.forEach((v,i)=>{
    const yy=ly+21.75+i*10.05;
    lg.append("line").attr("x1",lx+10).attr("x2",lx+13).attr("y1",yy).attr("y2",yy).attr("stroke","#555").attr("stroke-width",.5);
    lg.append("text").attr("x",lx+14.5).attr("y",yy+1.8).attr("font-size",5).attr("fill","#888").text(d3.format(".1f")(v));
  });
  const rt=lg.append("text").attr("x",lx+11.5).attr("y",ly+8.5).attr("font-size",6.5).attr("font-style","italic").attr("fill","#777");
  rt.append("tspan").text("r");rt.append("tspan").attr("font-size",4.4).attr("dy",-2).text("2");

  // gene box
  g.append("rect").attr("x",bx0).attr("y",p.gbox[0]).attr("width",bx1-bx0).attr("height",p.gbox[1]-p.gbox[0])
   .attr("fill","none").attr("stroke",borderCol).attr("stroke-width",1.1);
  p.genes.forEach(gn=>{
    const [name,st,en,row,dir,lab,ex]=gn;
    const ty=p.rowY[row], ly2=ty+p.lineOff;
    const gg=g.append("g");
    gg.append("line").attr("x1",x(st)).attr("x2",Math.max(x(en),x(st)+.8)).attr("y1",ly2).attr("y2",ly2).attr("stroke","#3a3f85").attr("stroke-width",.7);
    ex.forEach(e=>gg.append("rect").attr("x",x(e)-1.1).attr("y",ly2-1.4).attr("width",2.2).attr("height",2.8).attr("fill","#2b2f78"));
    const t=gg.append("text").attr("x",x(lab)).attr("y",ty+2).attr("text-anchor","middle").attr("font-size",6.2)
      .attr("font-style","italic").attr("fill","#444").text(name);
    const w=t.node().getComputedTextLength();
    const ax0=dir>0?x(lab)+w/2+.8:x(lab)-w/2-.8, ax1=ax0+dir*6.5;
    gg.append("line").attr("x1",ax0).attr("x2",ax1).attr("y1",ty).attr("y2",ty).attr("stroke","#111").attr("stroke-width",.7);
    gg.append("path").attr("d",`M${ax1},${ty}L${ax1-dir*2.6},${ty-1.4}L${ax1-dir*2.6},${ty+1.4}Z`).attr("fill","#111");
  });
  if(p.omitted){
    g.append("text").attr("x",361).attr("y",478).attr("font-size",6.6).attr("fill","#888").text("1 gene");
    g.append("text").attr("x",361).attr("y",487.5).attr("font-size",6.6).attr("fill","#888").text("omitted");
  }
});
</script></body></html>
